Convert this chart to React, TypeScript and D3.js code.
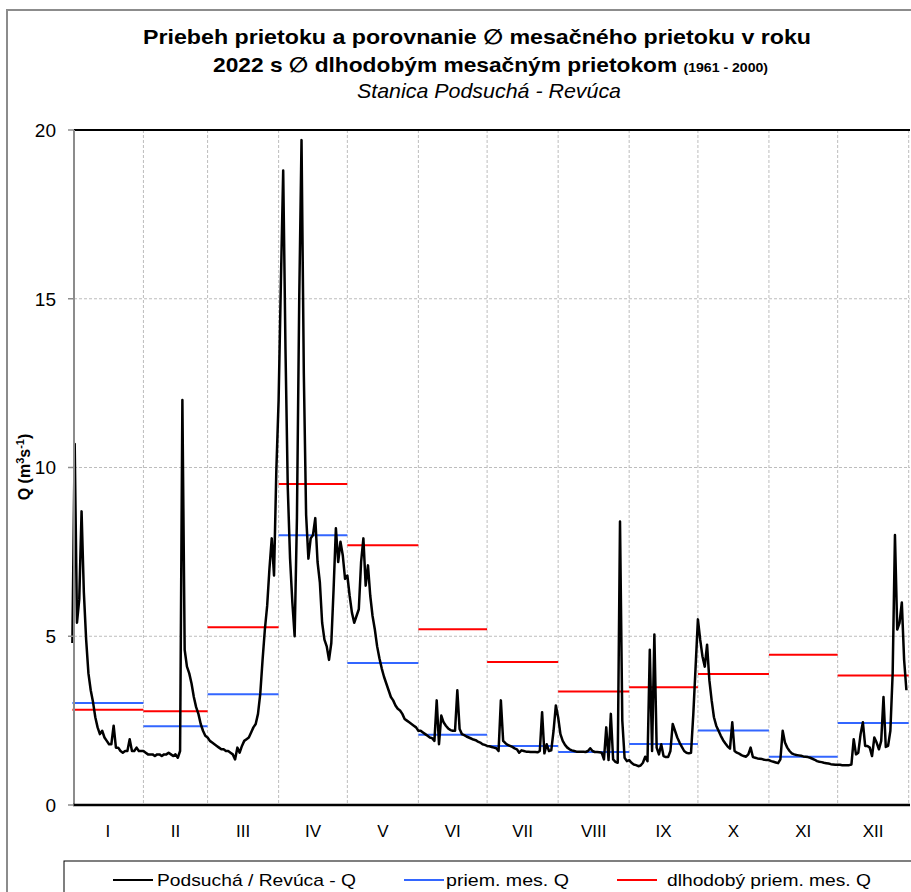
import React from 'react';
import * as d3 from 'd3';

// Daily discharge Q [m3/s], 2022, station Podsuchá - Revúca
const janQ = [4.8, 10.7, 5.4, 6.1, 8.7, 6.3, 4.9, 3.9, 3.4, 3.05, 2.6, 2.3, 2.1, 2.2, 2.0, 1.9, 1.8, 1.8, 2.35, 1.7, 1.7, 1.6, 1.55, 1.6, 1.6, 1.95, 1.6, 1.6, 1.7, 1.6, 1.6];
const febQ = [1.6, 1.55, 1.5, 1.5, 1.5, 1.45, 1.5, 1.5, 1.45, 1.5, 1.5, 1.55, 1.5, 1.45, 1.5, 1.4, 1.6, 12.0, 4.6, 4.1, 3.9, 3.6, 3.2, 2.9, 2.7, 2.4, 2.2, 2.05];
const marQ = [2.0, 1.9, 1.85, 1.8, 1.75, 1.7, 1.65, 1.65, 1.6, 1.6, 1.55, 1.5, 1.35, 1.7, 1.55, 1.75, 1.9, 1.95, 2.0, 2.15, 2.3, 2.4, 2.7, 3.3, 4.3, 5.2, 5.9, 7.0, 7.9, 6.8, 9.9];
const aprQ = [12.0, 15.5, 18.8, 13.5, 9.4, 7.3, 6.0, 5.0, 8.5, 15.0, 19.7, 12.8, 8.6, 7.3, 7.9, 8.0, 8.5, 7.2, 6.6, 5.4, 4.9, 4.7, 4.3, 4.8, 6.4, 8.2, 7.2, 7.8, 7.4, 6.7];
const mayQ = [6.8, 6.2, 5.7, 5.4, 5.6, 5.8, 7.2, 7.9, 6.5, 7.1, 6.2, 5.6, 5.2, 4.7, 4.35, 4.05, 3.8, 3.6, 3.4, 3.2, 3.1, 2.95, 2.85, 2.8, 2.7, 2.55, 2.5, 2.45, 2.4, 2.35, 2.3];
const junQ = [2.2, 2.2, 2.15, 2.1, 2.05, 2.0, 1.98, 1.9, 3.1, 1.8, 2.65, 2.45, 2.35, 2.27, 2.22, 2.2, 2.2, 3.4, 2.25, 2.1, 2.07, 2.03, 2.0, 1.97, 1.94, 1.92, 1.88, 1.85, 1.8, 1.78];
const julQ = [1.75, 1.74, 1.72, 1.7, 1.68, 1.6, 3.1, 1.9, 1.83, 1.78, 1.75, 1.72, 1.68, 1.65, 1.55, 1.62, 1.6, 1.58, 1.58, 1.57, 1.57, 1.57, 1.56, 1.6, 2.75, 1.53, 1.8, 1.6, 1.62, 2.2, 2.95];
const augQ = [2.6, 2.1, 1.9, 1.78, 1.7, 1.65, 1.62, 1.6, 1.58, 1.58, 1.58, 1.58, 1.57, 1.6, 1.68, 1.6, 1.57, 1.57, 1.56, 1.55, 1.35, 2.3, 1.33, 2.7, 1.35, 1.28, 1.25, 8.4, 2.5, 1.4, 1.3];
const sepQ = [1.33, 1.25, 1.2, 1.18, 1.15, 1.17, 1.25, 1.43, 1.3, 4.6, 1.6, 5.05, 1.7, 1.5, 1.8, 1.45, 1.42, 1.42, 1.6, 2.4, 2.2, 2.0, 1.85, 1.72, 1.6, 1.55, 1.53, 1.55, 2.7, 4.1];
const octQ = [5.5, 4.9, 4.4, 4.1, 4.75, 3.7, 3.1, 2.6, 2.35, 2.2, 2.05, 1.92, 1.82, 1.73, 1.67, 2.45, 1.6, 1.55, 1.52, 1.48, 1.45, 1.43, 1.5, 1.7, 1.42, 1.4, 1.38, 1.37, 1.36, 1.34, 1.33];
const novQ = [1.33, 1.3, 1.28, 1.26, 1.24, 1.35, 2.2, 1.85, 1.7, 1.6, 1.53, 1.5, 1.48, 1.47, 1.46, 1.44, 1.43, 1.42, 1.4, 1.37, 1.34, 1.3, 1.28, 1.27, 1.25, 1.24, 1.23, 1.21, 1.2, 1.19];
const decQ = [1.19, 1.19, 1.18, 1.18, 1.18, 1.18, 1.2, 1.95, 1.5, 1.55, 2.1, 2.45, 1.75, 1.75, 1.7, 1.45, 2.0, 1.85, 1.65, 1.9, 3.2, 1.72, 1.75, 2.2, 3.9, 8.0, 5.2, 5.4, 6.0, 4.3, 3.4];

// Monthly mean discharge 2022 (blue) and long-term monthly mean 1961-2000 (red)
const monthlyMeanQ = [3.02, 2.33, 3.28, 7.99, 4.21, 2.08, 1.75, 1.57, 1.81, 2.21, 1.43, 2.43];
const longTermMeanQ = [2.82, 2.78, 5.27, 9.51, 7.7, 5.21, 4.24, 3.36, 3.49, 3.88, 4.45, 3.84];

const monthLabels = ['I', 'II', 'III', 'IV', 'V', 'VI', 'VII', 'VIII', 'IX', 'X', 'XI', 'XII'];
const yTicks = [0, 5, 10, 15, 20];
const legendLabels = ['Podsuchá / Revúca - Q', 'priem. mes. Q', 'dlhodobý priem. mes. Q'];

const FONT = "'Liberation Sans', Arial, 'DejaVu Sans', sans-serif";
const BLUE = '#3366ff';
const RED = '#ff0000';

export default function App() {
  const W = 911;
  const H = 892;
  const plotLeft = 74;
  const plotRight = 910;
  const start = new Date(Date.UTC(2022, 0, 1));
  const end = new Date(Date.UTC(2023, 0, 1));
  const x = d3.scaleUtc().domain([start, end]).range([72.4, 908.7]);
  const y = d3.scaleLinear().domain([0, 20]).range([805, 130]);

  const allQ = [...janQ, ...febQ, ...marQ, ...aprQ, ...mayQ, ...junQ, ...julQ, ...augQ, ...sepQ, ...octQ, ...novQ, ...decQ];
  const daily = allQ.map((v, i) => ({ date: d3.utcDay.offset(start, i), v }));
  const line = d3.line<{ date: Date; v: number }>().x(d => x(d.date)).y(d => y(d.v));

  const monthStarts = d3.utcMonth.range(start, d3.utcMonth.offset(end, 1));
  const months = monthLabels.map((lab, i) => ({
    lab,
    s: monthStarts[i],
    e: monthStarts[i + 1],
    mean: monthlyMeanQ[i],
    lt: longTermMeanQ[i],
  }));

  const gridColor = '#bdbdbd';

  return (
    <svg width={W} height={H} style={{ position: 'absolute', left: 0, top: 0, background: '#fff' }}>
      <rect x={0} y={0} width={W} height={H} fill="#fff" />
      {/* outer frame */}
      <rect x={7} y={10} width={1000} height={1000} fill="none" stroke="#8c8c8c" strokeWidth={2} />

      {/* title */}
      <text x={477} y={44} textAnchor="middle" fontFamily={FONT} fontWeight="bold" fontSize={21}
        textLength={668} lengthAdjust="spacingAndGlyphs">
        Priebeh prietoku a porovnanie ∅ mesačného prietoku v roku
      </text>
      <text x={213} y={72} fontFamily={FONT} fontWeight="bold" fontSize={21}
        textLength={555} lengthAdjust="spacingAndGlyphs">
        2022 s ∅ dlhodobým mesačným prietokom <tspan fontSize={13}>(1961 - 2000)</tspan>
      </text>
      <text x={489} y={98} textAnchor="middle" fontFamily={FONT} fontStyle="italic" fontSize={21}
        textLength={264} lengthAdjust="spacingAndGlyphs">
        Stanica Podsuchá - Revúca
      </text>

      {/* horizontal grid */}
      {yTicks.filter(t => t > 0 && t < 20).map(t => (
        <line key={'hg' + t} x1={plotLeft} x2={plotRight} y1={y(t)} y2={y(t)} stroke={gridColor} strokeWidth={1} strokeDasharray="3,2" />
      ))}
      {/* vertical month grid */}
      {monthStarts.slice(1).map((m, i) => (
        <line key={'vg' + i} x1={x(m)} x2={x(m)} y1={130} y2={805} stroke={gridColor} strokeWidth={1} strokeDasharray="3,2" />
      ))}

      {/* long-term monthly mean (red) */}
      {months.map((m, i) => (
        <line key={'lt' + i} x1={x(m.s)} x2={x(m.e)} y1={y(m.lt)} y2={y(m.lt)} stroke={RED} strokeWidth={2} />
      ))}
      {/* monthly mean 2022 (blue) */}
      {months.map((m, i) => (
        <line key={'mm' + i} x1={x(m.s)} x2={x(m.e)} y1={y(m.mean)} y2={y(m.mean)} stroke={BLUE} strokeWidth={2} />
      ))}

      {/* daily discharge */}
      <path d={line(daily) || ''} fill="none" stroke="#000" strokeWidth={2.5} strokeLinejoin="round" />

      {/* plot frame */}
      <line x1={plotLeft} x2={plotRight} y1={130} y2={130} stroke="#000" strokeWidth={2} />
      <line x1={plotLeft} x2={plotLeft} y1={130} y2={805} stroke="#8c8c8c" strokeWidth={2} />
      <line x1={plotLeft - 1} x2={plotRight} y1={805} y2={805} stroke="#000" strokeWidth={2.5} />

      {/* y axis ticks & labels */}
      {yTicks.map(t => (
        <g key={'yt' + t}>
          <line x1={68} x2={plotLeft} y1={y(t)} y2={y(t)} stroke="#8c8c8c" strokeWidth={1.5} />
          <text x={56} y={y(t)} dy="0.36em" textAnchor="end" fontFamily={FONT} fontSize={19}>{t}</text>
        </g>
      ))}
      <text transform="translate(30,467) rotate(-90)" textAnchor="middle" fontFamily={FONT} fontWeight="bold" fontSize={16}>
        Q (m<tspan dy={-6} fontSize={11}>3</tspan><tspan dy={6}>s</tspan><tspan dy={-6} fontSize={11}>-1</tspan><tspan dy={6}>)</tspan>
      </text>

      {/* month labels */}
      {months.map((m, i) => (
        <text key={'ml' + i} x={(x(m.s) + x(m.e)) / 2} y={837} textAnchor="middle" fontFamily={FONT} fontSize={17}>{m.lab}</text>
      ))}

      {/* legend */}
      <rect x={64} y={861} width={900} height={60} fill="#fff" stroke="#000" strokeWidth={1} />
      <line x1={113} x2={153} y1={880} y2={880} stroke="#000" strokeWidth={2} />
      <text x={157} y={886} fontFamily={FONT} fontSize={17} textLength={199} lengthAdjust="spacingAndGlyphs">{legendLabels[0]}</text>
      <line x1={404} x2={444} y1={880} y2={880} stroke={BLUE} strokeWidth={2} />
      <text x={446} y={886} fontFamily={FONT} fontSize={17} textLength={123} lengthAdjust="spacingAndGlyphs">{legendLabels[1]}</text>
      <line x1={617} x2={657} y1={880} y2={880} stroke={RED} strokeWidth={2} />
      <text x={667} y={886} fontFamily={FONT} fontSize={17} textLength={204} lengthAdjust="spacingAndGlyphs">{legendLabels[2]}</text>
    </svg>
  );
}
